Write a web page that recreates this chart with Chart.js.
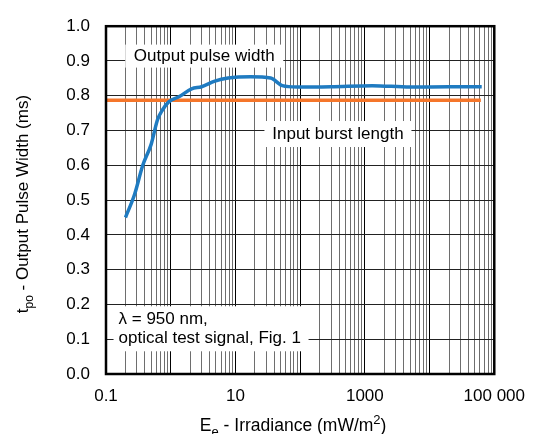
<!DOCTYPE html>
<html>
<head>
<meta charset="utf-8">
<script src="https://cdn.jsdelivr.net/npm/chart.js@4/dist/chart.umd.min.js"></script>
<style>
html, body { margin: 0; padding: 0; background: #fff; }
#wrap { width: 537px; height: 434px; }
</style>
</head>
<body>
<div id="wrap"><canvas id="chart" width="537" height="434"></canvas></div>
<script>
// output pulse width (ms) vs irradiance (mW/m2)
var irradiance = [0.2, 0.276, 0.37, 0.5, 0.625, 0.745, 0.94, 1.34, 2.1, 3.0, 4.8, 7.7, 17, 35, 53, 90, 300, 1300, 5000, 20000, 64000];
var pulseWidth = [0.45, 0.516, 0.60, 0.661, 0.731, 0.759, 0.783, 0.797, 0.82, 0.826, 0.842, 0.851, 0.855, 0.851, 0.829, 0.825, 0.826, 0.829, 0.825, 0.826, 0.826];

// input burst length (constant)
var burstX = [0.1, 62000];
var burstY = [0.787, 0.787];

var xLabelValues = [0.1, 10, 1000, 100000];
var xLabels = ['0.1', '10', '1000', '100 000'];
var decades = [0.1, 1, 10, 100, 1000, 10000];

var FONT = '"Liberation Sans", Arial, sans-serif';

/* ========= GRID TICKS ========= */
var gridVals = [];
decades.forEach(function (d) {
    for (var m = 1; m <= 9; m++) gridVals.push(d * m);
});
gridVals.push(100000);

function isDecade(v) {
    var l = Math.log10(v);
    return Math.abs(l - Math.round(l)) < 1e-6;
}

function xLabelFor(v) {
    for (var i = 0; i < xLabelValues.length; i++) {
        if (Math.abs(v - xLabelValues[i]) / xLabelValues[i] < 1e-6) return xLabels[i];
    }
    return '';
}

/* ========= NOTES ========= */
var notes = [
    { lines: ['Output pulse width'], x: 3.3, y: 0.914, w: 158, h: 23, align: 'center' },
    { lines: ['Input burst length'], x: 384, y: 0.69, w: 147, h: 26, align: 'center' },
    { lines: ['\u03bb = 950 nm,', 'optical test signal, Fig. 1'], x: 4.2, y: 0.13, w: 195, h: 45, align: 'left' }
];

function pts(xs, ys) {
    return xs.map(function (x, i) { return { x: x, y: ys[i] }; });
}

function drawRich(ctx, parts, x, y, size) {
    var small = Math.round(size * 0.72);
    var total = 0;
    parts.forEach(function (p) {
        ctx.font = (p.sub || p.sup ? small : size) + 'px ' + FONT;
        p.w = ctx.measureText(p.t).width;
        total += p.w;
    });
    var cx = x - total / 2;
    parts.forEach(function (p) {
        ctx.font = (p.sub || p.sup ? small : size) + 'px ' + FONT;
        var dy = p.sub ? size * 0.3 : (p.sup ? -size * 0.38 : 0);
        ctx.fillText(p.t, cx, y + dy);
        cx += p.w;
    });
}

var extras = {
    id: 'extras',
    beforeDatasetsDraw: function (chart) {
        var ctx = chart.ctx;
        var xs = chart.scales.x, ys = chart.scales.y;
        ctx.save();
        ctx.font = '17px ' + FONT;
        ctx.textBaseline = 'middle';
        notes.forEach(function (n) {
            var cx = xs.getPixelForValue(n.x);
            var cy = ys.getPixelForValue(n.y);
            ctx.fillStyle = '#fff';
            ctx.fillRect(cx - n.w / 2, cy - n.h / 2, n.w, n.h);
            ctx.fillStyle = '#000';
            var lh = 19;
            var y0 = cy - (n.lines.length - 1) * lh / 2;
            n.lines.forEach(function (t, i) {
                if (n.align === 'center') {
                    ctx.textAlign = 'center';
                    ctx.fillText(t, cx, y0 + i * lh);
                } else {
                    ctx.textAlign = 'left';
                    ctx.fillText(t, cx - n.w / 2 + 5, y0 + i * lh);
                }
            });
        });
        ctx.restore();
    },
    afterDraw: function (chart) {
        var ctx = chart.ctx;
        var a = chart.chartArea;
        ctx.save();
        ctx.strokeStyle = '#000';
        ctx.lineWidth = 2.5;
        ctx.strokeRect(a.left, a.top, a.right - a.left, a.bottom - a.top);

        // axis titles with sub/superscripts
        ctx.fillStyle = '#000';
        ctx.textAlign = 'left';
        ctx.textBaseline = 'alphabetic';
        drawRich(ctx, [{ t: 'E' }, { t: 'e', sub: true }, { t: ' - Irradiance (mW/m' }, { t: '2', sup: true }, { t: ')' }],
            (a.left + a.right) / 2 - 7, 431, 17.5);
        ctx.translate(28, (a.top + a.bottom) / 2 + 4);
        ctx.rotate(-Math.PI / 2);
        drawRich(ctx, [{ t: 't' }, { t: 'po', sub: true }, { t: ' - Output Pulse Width (ms)' }], 0, 0, 17);
        ctx.restore();
    }
};

/* ========= CHART ========= */
new Chart(document.getElementById('chart'), {
    type: 'scatter',
    data: {
        datasets: [{
            data: pts(irradiance, pulseWidth),
            showLine: true,
            borderColor: '#1f7bc1',
            borderWidth: 3.5,
            pointRadius: 0,
            cubicInterpolationMode: 'monotone',
            order: 0
        }, {
            data: pts(burstX, burstY),
            showLine: true,
            borderColor: '#f5762a',
            borderWidth: 3.5,
            pointRadius: 0,
            order: 1
        }]
    },
    options: {
        responsive: false,
        animation: false,
        devicePixelRatio: 1,
        layout: { padding: { left: 0, top: 17, right: 37, bottom: 0 } },
        plugins: { legend: { display: false }, tooltip: { enabled: false } },
        scales: {
            x: {
                type: 'logarithmic',
                min: 0.1,
                max: 100000,
                afterBuildTicks: function (s) {
                    s.ticks = gridVals.map(function (v) { return { value: v }; });
                },
                afterFit: function (s) { s.height = 60; },
                border: { display: false },
                grid: {
                    drawTicks: false,
                    lineWidth: 1,
                    color: function (c) { return c.tick && isDecade(c.tick.value) ? '#000' : '#6e6e6e'; }
                },
                ticks: {
                    autoSkip: false,
                    maxRotation: 0,
                    padding: 12,
                    color: '#000',
                    font: { size: 17, family: FONT },
                    callback: function (v) { return xLabelFor(v); }
                }
            },
            y: {
                min: 0,
                max: 1,
                afterFit: function (s) { s.width = 106; },
                border: { display: false },
                grid: { drawTicks: false, color: '#222', lineWidth: 1 },
                ticks: {
                    stepSize: 0.1,
                    padding: 16,
                    color: '#000',
                    font: { size: 17, family: FONT },
                    callback: function (v) { return v.toFixed(1); }
                }
            }
        }
    },
    plugins: [extras]
});
</script>
</body>
</html>
